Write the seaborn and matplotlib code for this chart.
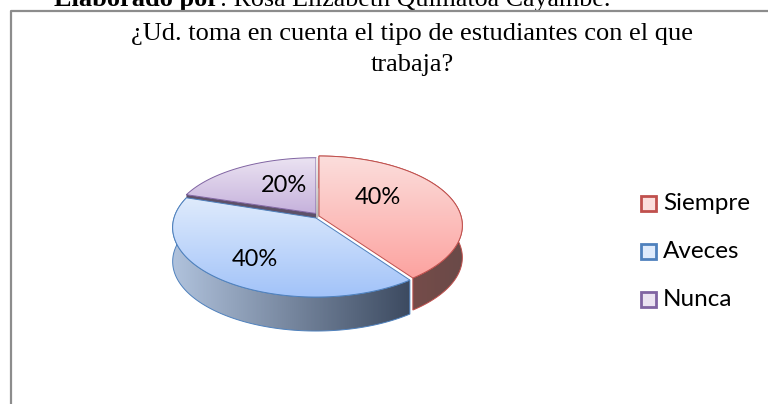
import numpy as np
import matplotlib
matplotlib.use('Agg')
import matplotlib.pyplot as plt
import seaborn as sns
from matplotlib.colors import LinearSegmentedColormap
from matplotlib.patches import Polygon, Rectangle

categories = ['Siempre', 'Aveces', 'Nunca']
values = [40, 40, 20]
labels = ['40%', '40%', '20%']

title = '¿Ud. toma en cuenta el tipo de estudiantes con el que\ntrabaja?'

top_colors = [('#fbdedc', '#fda3a0'), ('#dfebfc', '#a2c3f9'), ('#ebe3f2', '#c6b2dc')]
side_colors = [('#8a4f4c', '#6a4a48'), ('#b0c2dc', '#3c4a60'), ('#5d5068', '#5d5068')]
edge_colors = ['#c0504d', '#4f81bd', '#8064a2']
apexes = [(319, 216), (316, 218), (316, 213.5)]
y_scales = [1, 1, 0.93]
label_pos = [(378, 197), (255, 260), (284, 186)]
depths = [32, 34, 6]

sns.set_theme(style='white')
plt.rcParams['font.family'] = ['Lato', 'DejaVu Sans']

fig = plt.figure(figsize=(7.68, 4.04), dpi=100)
ax = fig.add_axes([0, 0, 1, 1])
ax.set_xlim(0, 768)
ax.set_ylim(404, 0)
ax.axis('off')


def project(angle, apex, y_scale):
    # circle seen in perspective, angle runs clockwise from 12 o'clock
    u, v = np.sin(angle), np.cos(angle)
    w = 1 + 0.137 * v
    return apex[0] + 142 * u / w, apex[1] - 68.2 * y_scale * v / w


def fill_gradient(points, c0, c1, vertical, edge=None, z=2):
    points = np.array(points)
    x0, x1 = points[:, 0].min(), points[:, 0].max()
    y0, y1 = points[:, 1].min(), points[:, 1].max()
    cmap = LinearSegmentedColormap.from_list('g', [c0, c1])
    ramp = np.linspace(0, 1, 200)
    ramp = ramp[:, None] if vertical else ramp[None, :]
    im = ax.imshow(ramp, cmap=cmap, extent=(x0, x1, y1, y0), aspect='auto', zorder=z,
                   interpolation='bilinear')
    patch = Polygon(points, closed=True, fc='none', ec=edge if edge else 'none', lw=0.7, zorder=z + 0.1)
    ax.add_patch(patch)
    im.set_clip_path(patch)


ends = np.cumsum(values) / np.sum(values) * 2 * np.pi
starts = np.r_[0, ends[:-1]]

# back slice first, the front ones cover it
for i in [2, 0, 1]:
    ang = np.linspace(starts[i], ends[i], 120)
    ax_x, ax_y = project(ang, apexes[i], y_scales[i])
    arc = np.c_[ax_x, ax_y]
    z = 2 + [2, 0, 1].index(i) * 2
    if i == 2:
        # cut face showing under the purple slice
        face = [apexes[i], arc[0], arc[0] + [0, depths[i]], (apexes[i][0], apexes[i][1] + depths[i])]
        fill_gradient(face, side_colors[i][0], side_colors[i][1], False, z=z)
    else:
        side = np.r_[arc, (arc + [0, depths[i]])[::-1]]
        fill_gradient(side, side_colors[i][0], side_colors[i][1], False, edge=edge_colors[i], z=z)
    if i == 0:
        face = [apexes[i], (apexes[i][0], 158), (apexes[i][0] - 3, 158), (apexes[i][0] - 3, apexes[i][1] + 4)]
        fill_gradient(face, '#f0efef', '#b9b6b4', True, z=z)
    top = np.r_[[apexes[i]], arc]
    fill_gradient(top, top_colors[i][0], top_colors[i][1], True, edge=edge_colors[i], z=z + 1)
    ax.text(label_pos[i][0], label_pos[i][1], labels[i], fontsize=17, color='black',
            ha='center', va='center', zorder=20)

# legend
for name, y, c0, edge in zip(categories, [203, 251, 299], top_colors, edge_colors):
    ax.add_patch(Rectangle((641, y - 7.5), 15, 15, fc=c0[0], ec=edge, lw=2, zorder=5))
    ax.text(663, y, name, fontsize=17.5, color='black', ha='left', va='center', zorder=5)

# frame of the chart, the page text above it is cut off
ax.plot([11, 11, 768], [404, 11, 11], color='#8c8c8c', lw=1.6, zorder=6, clip_on=False)
ax.text(54, 6, 'Elaborado por', family='Liberation Serif', fontweight='bold', fontsize=19,
        ha='left', va='baseline', color='black')
ax.text(220, 6, ': Rosa Elizabeth Quimatoa Cayambe.', family='Liberation Serif', fontsize=18.7,
        ha='left', va='baseline', color='black')
ax.text(412, 49.5, title, family='Liberation Serif', fontsize=19, ha='center', va='center',
        color='black', linespacing=1.5)

ax.set_xlim(0, 768)
ax.set_ylim(404, 0)
fig.savefig('out.png', dpi=100)
